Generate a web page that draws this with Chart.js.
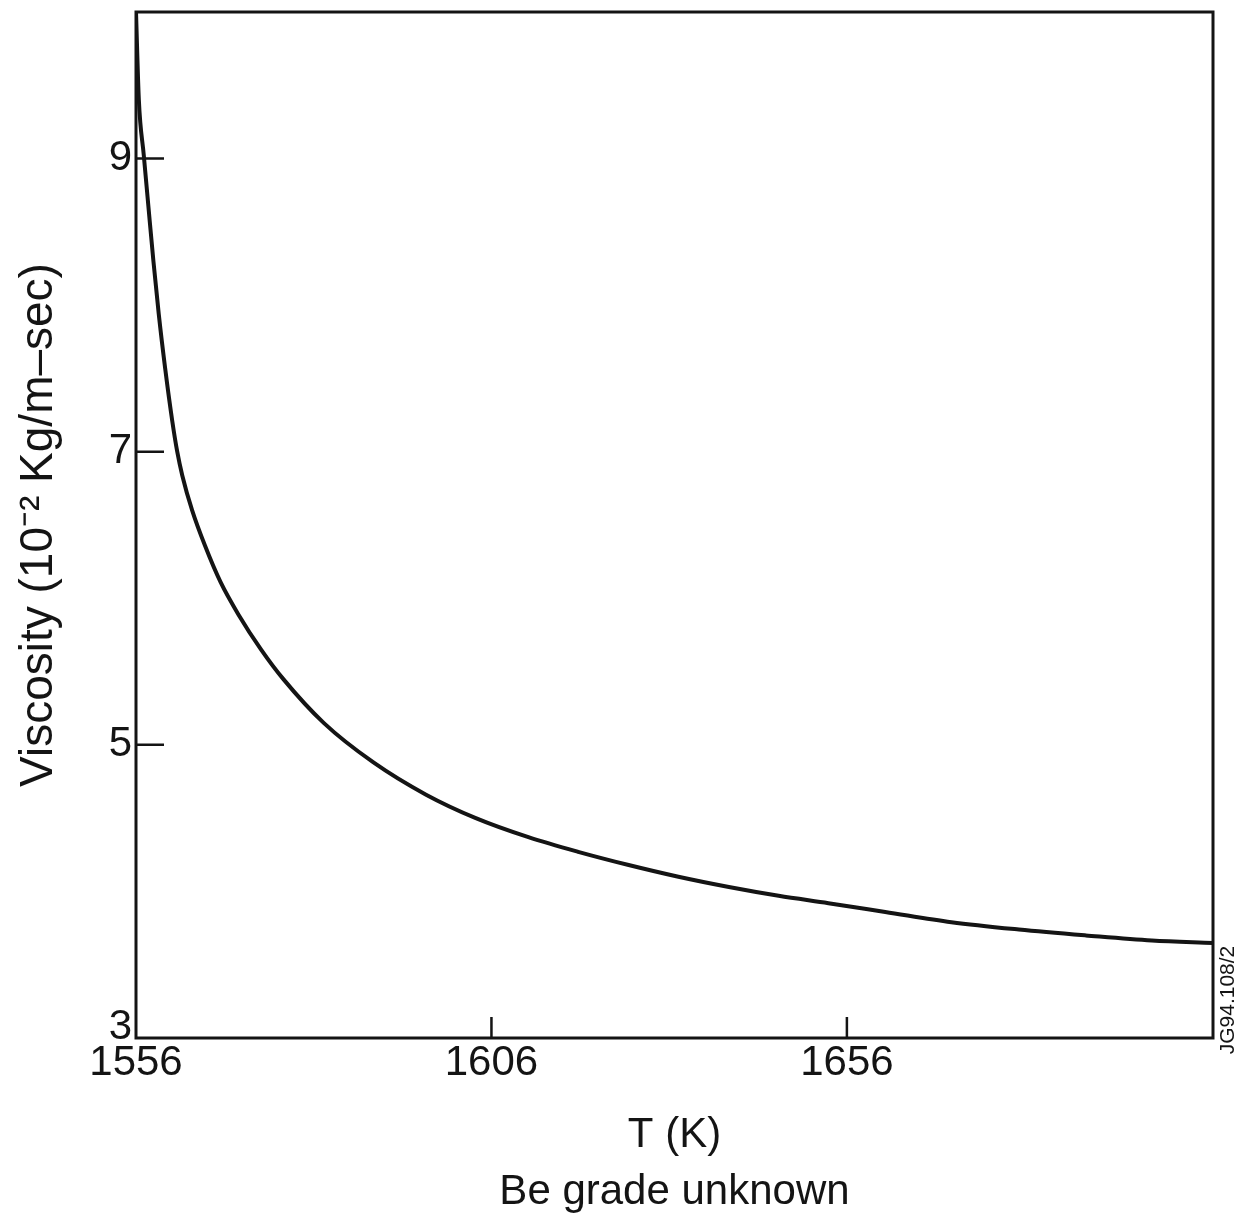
<!DOCTYPE html>
<html>
<head>
<meta charset="utf-8">
<script src="https://cdn.jsdelivr.net/npm/chart.js@4.4.1/dist/chart.umd.min.js"></script>
<style>
  html, body { margin: 0; padding: 0; background: #fff; }
  #wrap { width: 1238px; height: 1217px; position: relative; }
</style>
</head>
<body>
<div id="wrap"><canvas id="c" width="1238" height="1217"></canvas></div>
<script>
// ---- data ----
const temperatureK = [1556.0, 1556.4, 1557.1, 1557.75, 1558.45, 1559.2, 1560.1, 1561.1, 1561.8, 1562.5,
                      1563.9, 1565.7, 1567.9, 1570.4, 1573.6, 1576.7, 1582.4, 1589.4, 1596.8, 1603.8,
                      1611.2, 1618.2, 1625.3, 1632.3, 1639.4, 1646.4, 1653.4, 1661.4, 1670.7, 1680.2,
                      1689.6, 1698.9, 1707.5];
const viscosity    = [10.00, 9.40, 9.02, 8.67, 8.30, 7.94, 7.57, 7.21, 7.00, 6.84,
                      6.60, 6.36, 6.11, 5.89, 5.65, 5.45, 5.15, 4.88, 4.66, 4.50,
                      4.37, 4.27, 4.18, 4.10, 4.03, 3.97, 3.92, 3.86, 3.79, 3.74,
                      3.70, 3.665, 3.648];
const xTicks = [1556, 1606, 1656];
const yTicks = [3, 5, 7, 9];
const xRange = [1556, 1707.5];
const yRange = [3, 10];
const xTitle = 'T (K)';
const subTitle = 'Be grade unknown';
const yTitle = 'Viscosity (10\u207B\u00B2 Kg/m\u2013sec)';
const figureCode = 'JG94.108/2';

const FONT = '"Liberation Sans", Arial, Helvetica, sans-serif';
const INK = '#141414';

const framePlugin = {
  id: 'frameAndTicks',
  afterDatasetsDraw(chart) {
    const { ctx, chartArea: a, scales: { x, y } } = chart;
    ctx.save();
    ctx.strokeStyle = INK;
    ctx.lineWidth = 3;
    ctx.strokeRect(a.left, a.top, a.right - a.left, a.bottom - a.top);
    ctx.lineWidth = 2.5;
    ctx.beginPath();
    yTicks.forEach(v => {
      if (v === yRange[0]) return;
      const py = y.getPixelForValue(v);
      ctx.moveTo(a.left, py);
      ctx.lineTo(a.left + 28, py);
    });
    xTicks.forEach(v => {
      if (v === xRange[0]) return;
      const px = x.getPixelForValue(v);
      ctx.moveTo(px, a.bottom);
      ctx.lineTo(px, a.bottom - 21);
    });
    ctx.stroke();
    // figure code, rotated, right of the frame
    ctx.translate(a.right + 15, a.bottom - 38);
    ctx.rotate(-Math.PI / 2);
    ctx.fillStyle = INK;
    ctx.font = '21px ' + FONT;
    ctx.textAlign = 'center';
    ctx.textBaseline = 'middle';
    ctx.fillText(figureCode, 0, 0);
    ctx.restore();
  }
};

new Chart(document.getElementById('c'), {
  type: 'line',
  data: {
    datasets: [{
      data: temperatureK.map((t, i) => ({ x: t, y: viscosity[i] })),
      borderColor: INK,
      borderWidth: 4,
      pointRadius: 0,
      fill: false,
      cubicInterpolationMode: 'monotone'
    }]
  },
  options: {
    responsive: false,
    devicePixelRatio: 1,
    animation: false,
    layout: { padding: { top: 12, right: 25, left: 0, bottom: 0 } },
    plugins: { legend: { display: false }, tooltip: { enabled: false } },
    scales: {
      x: {
        type: 'linear',
        min: xRange[0],
        max: xRange[1],
        afterBuildTicks: s => { s.ticks = xTicks.map(v => ({ value: v })); },
        afterFit: s => { s.height = 179; s.paddingLeft = 0; s.paddingRight = 0; },
        grid: { display: false, drawTicks: false },
        border: { display: false },
        ticks: {
          color: INK, padding: 0, maxRotation: 0, autoSkip: false,
          font: { family: FONT, size: 42 },
          callback: v => String(v)
        },
        title: {
          display: true, text: [xTitle, subTitle], color: INK,
          font: { family: FONT, size: 42, lineHeight: 1.36 },
          padding: { top: 0, bottom: -4 }
        }
      },
      y: {
        type: 'linear',
        min: yRange[0],
        max: yRange[1],
        afterBuildTicks: s => { s.ticks = yTicks.map(v => ({ value: v })); },
        afterFit: s => { s.width = 136; s.paddingTop = 0; s.paddingBottom = 0; },
        grid: { display: false, drawTicks: false },
        border: { display: false },
        ticks: {
          color: INK, padding: 4,
          // the bottom label sits a little above its tick, clear of the x labels
          font: c => (c.tick && c.tick.value === yRange[0])
            ? { family: FONT, size: 42, lineHeight: 0.5 }
            : { family: FONT, size: 42 },
          callback: v => (v === yRange[0] ? [String(v), ''] : String(v))
        },
        title: {
          display: true, text: yTitle, color: INK,
          font: { family: FONT, size: 46 },
          padding: { top: 12, bottom: 0 }
        }
      }
    }
  },
  plugins: [framePlugin]
});
</script>
</body>
</html>
